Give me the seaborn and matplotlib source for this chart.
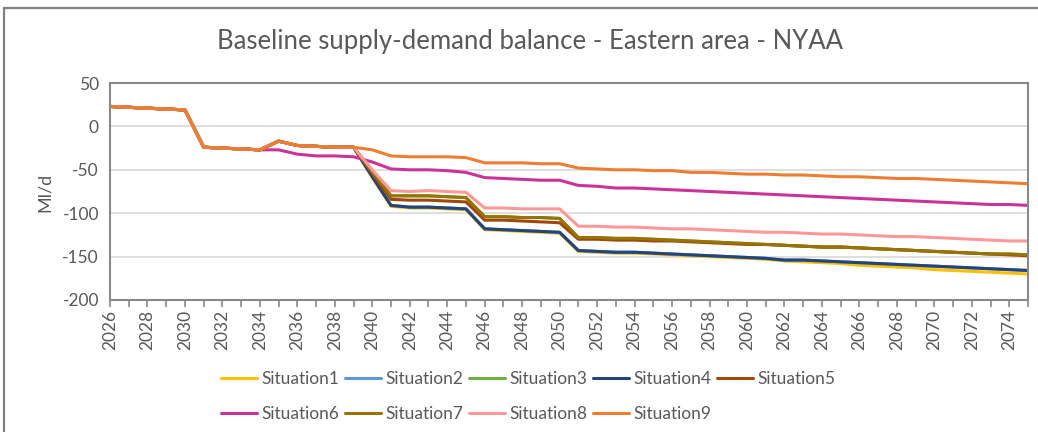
import numpy as np
import pandas as pd
import matplotlib
matplotlib.use("Agg")
import matplotlib.pyplot as plt
from matplotlib.patches import Rectangle
import seaborn as sns

# ---- data (Ml/d) ----
years = list(range(2026, 2076))

# common path up to 2039 (orange route, shared by most series)
common = [23, 22, 21, 20, 19, -24, -25, -26, -27, -17, -22, -23, -24, -24]

situation9 = common + [-27, -34, -35, -35, -35, -36, -42, -42, -42, -43, -43,
                       -48, -49, -50, -50, -51, -51, -53, -53, -54, -55,
                       -55, -56, -56, -57, -58, -58, -59, -60, -60, -61,
                       -62, -63, -64, -65, -66]

situation6 = [23, 22, 21, 20, 19, -24, -25, -26, -27, -27, -32, -34, -34, -35,
              -41, -49, -50, -50, -51, -53, -59, -60, -61, -62, -62,
              -68, -69, -71, -71, -72, -73, -74, -75, -76, -77,
              -78, -79, -80, -81, -82, -83, -84, -85, -86, -87,
              -88, -89, -90, -90, -91]

situation8 = common + [-50, -74, -75, -74, -75, -76, -94, -94, -95, -95, -95,
                       -115, -115, -116, -116, -117, -118, -118, -119, -120, -121,
                       -122, -122, -123, -124, -124, -125, -126, -127, -127, -128,
                       -129, -130, -131, -132, -132]

situation7 = common + [-52, -80, -80, -80, -81, -82, -104, -104, -105, -105, -106,
                       -128, -128, -129, -129, -130, -131, -132, -133, -134, -135,
                       -136, -137, -138, -139, -139, -140, -141, -142, -143, -144,
                       -145, -146, -147, -147, -148]

situation5 = common + [-54, -84, -85, -85, -86, -87, -108, -108, -109, -110, -111,
                       -130, -130, -131, -131, -132, -132, -133, -134, -135, -136,
                       -136, -137, -138, -139, -139, -140, -141, -142, -143, -144,
                       -145, -146, -147, -148, -149]

situation4 = common + [-58, -91, -93, -93, -94, -95, -118, -119, -120, -121, -122,
                       -143, -144, -145, -145, -146, -147, -148, -149, -150, -151,
                       -152, -154, -154, -155, -156, -157, -158, -159, -160, -161,
                       -162, -163, -164, -165, -166]

situation1 = common + [-59, -92, -94, -94, -95, -96, -119, -120, -121, -122, -123,
                       -144, -145, -146, -146, -147, -148, -149, -150, -151, -152,
                       -153, -155, -156, -157, -158, -160, -161, -162, -163, -165,
                       -166, -167, -168, -169, -170]

# Situation2 and Situation3 are hidden under later series in the original
situation2 = list(situation4)
situation3 = list(situation7)

series_names = [f"Situation{i}" for i in range(1, 10)]
series_values = [situation1, situation2, situation3, situation4, situation5,
                 situation6, situation7, situation8, situation9]
colors = ["#FFC000", "#5B9BD5", "#70AD47", "#264478", "#9E480E",
          "#CC3399", "#997300", "#FF9999", "#ED7D31"]

df = pd.concat(
    [pd.DataFrame({"year": years, "value": v, "series": n})
     for n, v in zip(series_names, series_values)],
    ignore_index=True,
)

# ---- plot ----
sns.set_theme(style="white")
plt.rcParams["font.family"] = ["Lato", "DejaVu Sans"]
plt.rcParams["axes.unicode_minus"] = False
text_col = "#595959"

fig = plt.figure(figsize=(10.38, 4.32), dpi=100)
ax = fig.add_axes([110 / 1038, 1 - 300 / 432, (1028 - 110) / 1038, (300 - 83) / 432])

sns.lineplot(data=df, x="year", y="value", hue="series", hue_order=series_names,
             palette=colors, linewidth=2.2, legend=False, ax=ax, sort=False)

ax.set_xlim(2026, 2075)
ax.set_ylim(-200, 50)
ax.set_yticks([50, 0, -50, -100, -150, -200])
ax.set_xticks(years)
ax.set_xticklabels([str(y) if (y - 2026) % 2 == 0 else "" for y in years],
                   rotation=90)
ax.tick_params(axis="x", length=5, width=1.2, color="#898989", direction="out",
               labelsize=12.5, labelcolor=text_col, pad=2, bottom=True)
ax.tick_params(axis="y", length=0, labelsize=12.5, labelcolor=text_col, pad=8)
ax.grid(axis="y", color="#D9D9D9", linewidth=1.2)
ax.set_axisbelow(True)
for s in ax.spines.values():
    s.set_color("#898989")
    s.set_linewidth(1.5)

ax.set_xlabel("")
ax.set_ylabel("")
fig.text(45 / 1038, 1 - 192 / 432, "Ml/d", rotation=90, ha="center", va="center",
         fontsize=13, color=text_col)

fig.text(530 / 1038, 1 - 42 / 432,
         "Baseline supply-demand balance - Eastern area - NYAA",
         ha="center", va="center", fontsize=18.5, color=text_col)

# legend in row-major order (5 columns)
lines = ax.get_lines()[:9]
order = [0, 5, 1, 6, 2, 7, 3, 8, 4]
leg = fig.legend([lines[i] for i in order], [series_names[i] for i in order],
                 loc="upper center", bbox_to_anchor=(528 / 1038, 1 - 355 / 432),
                 ncol=5, frameon=False, fontsize=12.5, handlelength=2.1,
                 handletextpad=0.25, columnspacing=0.3, labelspacing=1.1)
for t in leg.get_texts():
    t.set_color(text_col)

# outer chart border
fig.patches.append(Rectangle((4.5 / 1038, -0.05), 1.2, 1.05 - 8.5 / 432,
                             transform=fig.transFigure, fill=False,
                             edgecolor="#808080", linewidth=1.6))

fig.savefig("out.png", dpi=100)
